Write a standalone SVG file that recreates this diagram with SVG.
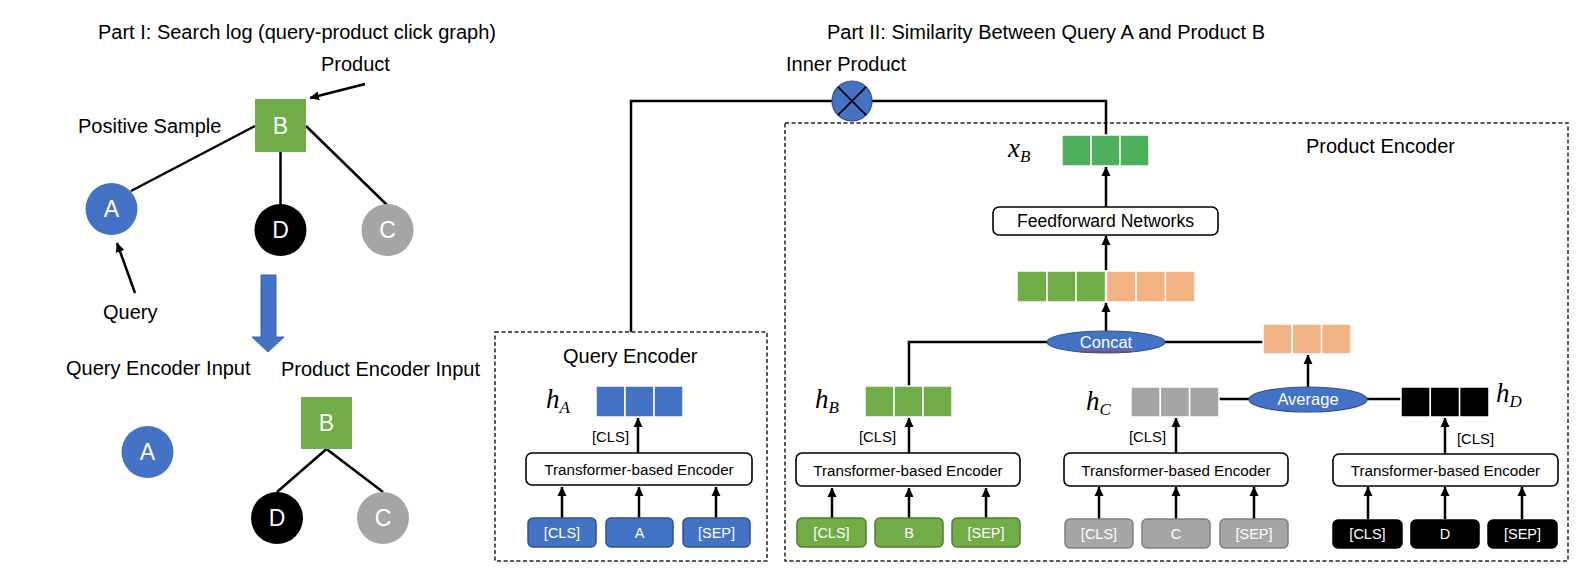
<svg xmlns="http://www.w3.org/2000/svg" width="1586" height="584" viewBox="0 0 1586 584">
<defs>
<marker id="ah" markerUnits="userSpaceOnUse" markerWidth="10" markerHeight="10" refX="9" refY="5" orient="auto">
<path d="M0,0.5 L9.5,5 L0,9.5 z" fill="#000"/>
</marker>
</defs>
<style>
text{font-family:"Liberation Sans",Arial,sans-serif;fill:#000;}
.lbl{font-size:20px;}
.let{font-size:23px;fill:#fff;text-anchor:middle;}
.math{font-family:"Liberation Serif","Times New Roman",serif;font-style:italic;font-size:27px;}
.sub{font-size:17px;}
.ln{stroke:#000;stroke-width:2.5;fill:none;}
.ar{stroke:#000;stroke-width:2.5;fill:none;marker-end:url(#ah);}
.dash{fill:none;stroke:#222;stroke-width:1.5;stroke-dasharray:4 2.5;}
.tf{fill:#fff;stroke:#000;stroke-width:1.6;}
.tft{font-size:15.2px;text-anchor:middle;}
.cls{font-size:14.8px;}
.tok{font-size:14.5px;fill:#fff;text-anchor:middle;}
.cell{stroke:#fff;stroke-width:1.5;}
.blue{fill:#4472C4;}
.green{fill:#70AD47;}
.gray{fill:#A5A5A5;}
.blk{fill:#000;}
.org{fill:#F2B384;}
.xg{fill:#4CAF5C;}
.tb{fill:#4472C4;stroke:#2F528F;stroke-width:1.5;}
.tg{fill:#70AD47;stroke:#507E32;stroke-width:1.5;}
.tgr{fill:#A5A5A5;stroke:#7F7F7F;stroke-width:1.5;}
.tk{fill:#000;stroke:#000;stroke-width:1.5;}
.ell{fill:#4472C4;stroke:#2F528F;stroke-width:1.2;}
.et{font-size:16.5px;fill:#fff;text-anchor:middle;}
</style>

<!-- Part I -->
<g id="part1-title"><text class="lbl" x="98" y="39">Part I: Search log (query-product click graph)</text></g>
<g id="label-product"><text class="lbl" x="321" y="71">Product</text></g>
<g id="label-positive"><text class="lbl" x="78" y="133">Positive Sample</text></g>
<g id="label-query"><text class="lbl" x="103" y="319">Query</text></g>
<g id="label-qei"><text class="lbl" x="66" y="375">Query Encoder Input</text></g>
<g id="label-pei"><text class="lbl" x="281" y="376">Product Encoder Input</text></g>

<g id="p1-connectors">
<line class="ln" x1="255" y1="126" x2="131" y2="191"/>
<line class="ln" x1="280.5" y1="152" x2="280.5" y2="205"/>
<line class="ln" x1="306" y1="126" x2="387" y2="205"/>
<line class="ar" x1="365" y1="84" x2="310" y2="98"/>
<line class="ar" x1="135" y1="293" x2="117" y2="243"/>
<line class="ln" x1="326.5" y1="449" x2="277" y2="492"/>
<line class="ln" x1="326.5" y1="449" x2="383" y2="492"/>
</g>

<g id="p1-B"><rect x="255" y="99" width="51" height="53" class="green"/><text class="let" x="280.5" y="134">B</text></g>
<g id="p1-A"><circle cx="111.5" cy="209" r="26" class="blue"/><text class="let" x="111.5" y="217">A</text></g>
<g id="p1-D"><circle cx="280.5" cy="230" r="26" class="blk"/><text class="let" x="280.5" y="238">D</text></g>
<g id="p1-C"><circle cx="387.5" cy="230" r="26" class="gray"/><text class="let" x="387.5" y="238">C</text></g>
<g id="p1-downarrow"><polygon points="261,275 276,275 276,337 284,337 268,352 252,337 261,337" fill="#4472C4" stroke="#3A62AA" stroke-width="1"/></g>
<g id="p1-A2"><circle cx="147.5" cy="452" r="26" class="blue"/><text class="let" x="147.5" y="460">A</text></g>
<g id="p1-B2"><rect x="301" y="397" width="51" height="52" class="green"/><text class="let" x="326.5" y="431">B</text></g>
<g id="p1-D2"><circle cx="277" cy="518" r="26" class="blk"/><text class="let" x="277" y="526">D</text></g>
<g id="p1-C2"><circle cx="383" cy="518" r="26" class="gray"/><text class="let" x="383" y="526">C</text></g>

<!-- Part II -->
<g id="part2-title"><text class="lbl" x="827" y="39">Part II: Similarity Between Query A and Product B</text></g>
<g id="label-inner"><text class="lbl" x="786" y="71">Inner Product</text></g>

<g id="query-encoder"><rect class="dash" x="495" y="332" width="272" height="229"/><text class="lbl" x="563" y="363">Query Encoder</text></g>
<g id="product-encoder"><rect class="dash" x="785" y="123" width="783" height="438"/><text class="lbl" x="1306" y="153">Product Encoder</text></g>

<g id="connectors">
<path class="ln" d="M631,332 V101 H832"/>
<path class="ln" d="M872,101 H1106 V135"/>
<line class="ar" x1="1106" y1="207" x2="1106" y2="167"/>
<line class="ar" x1="1106" y1="270" x2="1106" y2="236"/>
<line class="ar" x1="1106" y1="331" x2="1106" y2="303"/>
<path class="ln" d="M909,386 V342 H1047"/>
<line class="ln" x1="1165" y1="342" x2="1263" y2="342"/>
<line class="ar" x1="1308" y1="387" x2="1308" y2="355"/>
<line class="ln" x1="1219" y1="399" x2="1249" y2="399"/>
<line class="ln" x1="1367" y1="399" x2="1401" y2="399"/>
<line class="ar" x1="638" y1="453" x2="638" y2="418"/>
<line class="ar" x1="909" y1="453" x2="909" y2="418"/>
<line class="ar" x1="1176" y1="453" x2="1176" y2="418"/>
<line class="ar" x1="1445" y1="454" x2="1445" y2="418"/>
<line class="ar" x1="562" y1="518" x2="562" y2="487"/>
<line class="ar" x1="639" y1="518" x2="639" y2="487"/>
<line class="ar" x1="716" y1="518" x2="716" y2="487"/>
<line class="ar" x1="832" y1="518" x2="832" y2="488"/>
<line class="ar" x1="909" y1="518" x2="909" y2="488"/>
<line class="ar" x1="986" y1="518" x2="986" y2="488"/>
<line class="ar" x1="1099" y1="519" x2="1099" y2="487"/>
<line class="ar" x1="1176" y1="519" x2="1176" y2="487"/>
<line class="ar" x1="1254" y1="519" x2="1254" y2="487"/>
<line class="ar" x1="1368" y1="519" x2="1368" y2="487"/>
<line class="ar" x1="1445" y1="519" x2="1445" y2="487"/>
<line class="ar" x1="1522" y1="519" x2="1522" y2="487"/>
</g>

<g id="inner-product"><circle cx="852" cy="101" r="20" fill="#4472C4" stroke="#2F528F" stroke-width="1.2"/><path d="M837.9,86.9 L866.1,115.1 M866.1,86.9 L837.9,115.1" stroke="#000" stroke-width="1.6"/></g>

<g id="xB"><text class="math" x="1008" y="157">x<tspan class="sub" dy="5">B</tspan></text>
<rect class="cell xg" x="1062" y="135" width="29" height="31"/><rect class="cell xg" x="1091" y="135" width="29" height="31"/><rect class="cell xg" x="1120" y="135" width="29" height="31"/></g>

<g id="ffn"><rect class="tf" x="993" y="207" width="225" height="28" rx="6"/><text x="1105.5" y="227" font-size="17.6px" text-anchor="middle">Feedforward Networks</text></g>

<g id="concat-vector">
<rect class="cell green" x="1017" y="271" width="30" height="31"/><rect class="cell green" x="1047" y="271" width="29" height="31"/><rect class="cell green" x="1076" y="271" width="29.5" height="31"/>
<rect class="cell org" x="1106.5" y="271" width="29.5" height="31"/><rect class="cell org" x="1136" y="271" width="29.5" height="31"/><rect class="cell org" x="1165.5" y="271" width="29.5" height="31"/></g>

<g id="concat"><ellipse class="ell" cx="1106" cy="342" rx="59" ry="11"/><text class="et" x="1106" y="348">Concat</text>
<path d="M1080,352.5 l2,-1.5 l2,1.5 l2,-1.5 l2,1.5 l2,-1.5 l2,1.5 l2,-1.5 l2,1.5 l2,-1.5 l2,1.5 l2,-1.5 l2,1.5 l2,-1.5 l2,1.5 l2,-1.5 l2,1.5 l2,-1.5 l2,1.5 l2,-1.5 l2,1.5 l2,-1.5 l2,1.5 l2,-1.5 l2,1.5 l2,-1.5 l2,1.5" fill="none" stroke="#E0201B" stroke-width="1"/></g>

<g id="avg-vector"><rect class="cell org" x="1263" y="324" width="29.3" height="30"/><rect class="cell org" x="1292.3" y="324" width="29.3" height="30"/><rect class="cell org" x="1321.6" y="324" width="29.4" height="30"/></g>

<g id="average"><ellipse class="ell" cx="1308" cy="399.5" rx="59" ry="12.5"/><text class="et" x="1308" y="405" font-size="15.6px">Average</text></g>

<!-- Query encoder internals -->
<g id="hA"><text class="math" x="546" y="408">h<tspan class="sub" dy="5">A</tspan></text>
<rect class="cell blue" x="596" y="386" width="29" height="31"/><rect class="cell blue" x="625" y="386" width="29" height="31"/><rect class="cell blue" x="654" y="386" width="29" height="31"/>
<text class="cls" x="592" y="442">[CLS]</text></g>
<g id="tfA"><rect class="tf" x="526" y="453" width="226" height="32" rx="6"/><text class="tft" x="639" y="475">Transformer-based Encoder</text></g>
<g id="tokA-cls"><rect class="tb" x="528" y="518" width="68" height="29" rx="5"/><text class="tok" x="562" y="538">[CLS]</text></g>
<g id="tokA-A"><rect class="tb" x="606" y="518" width="67" height="29" rx="5"/><text class="tok" x="639.5" y="538">A</text></g>
<g id="tokA-sep"><rect class="tb" x="683" y="518" width="67" height="29" rx="5"/><text class="tok" x="716.5" y="538">[SEP]</text></g>

<!-- B branch -->
<g id="hB"><text class="math" x="815" y="408">h<tspan class="sub" dy="5">B</tspan></text>
<rect class="cell green" x="865" y="386" width="29" height="31"/><rect class="cell green" x="894" y="386" width="29" height="31"/><rect class="cell green" x="923" y="386" width="29" height="31"/>
<text class="cls" x="859" y="442">[CLS]</text></g>
<g id="tfB"><rect class="tf" x="796" y="453" width="224" height="33" rx="6"/><text class="tft" x="908" y="476">Transformer-based Encoder</text></g>
<g id="tokB-cls"><rect class="tg" x="797" y="518" width="69" height="29" rx="5"/><text class="tok" x="831.5" y="538">[CLS]</text></g>
<g id="tokB-B"><rect class="tg" x="875" y="518" width="68" height="29" rx="5"/><text class="tok" x="909" y="538">B</text></g>
<g id="tokB-sep"><rect class="tg" x="952" y="518" width="68" height="29" rx="5"/><text class="tok" x="986" y="538">[SEP]</text></g>

<!-- C branch -->
<g id="hC"><text class="math" x="1086" y="410">h<tspan class="sub" dy="5">C</tspan></text>
<rect class="cell gray" x="1131" y="387" width="29.3" height="30"/><rect class="cell gray" x="1160.3" y="387" width="29.3" height="30"/><rect class="cell gray" x="1189.6" y="387" width="29.4" height="30"/>
<text class="cls" x="1129" y="442">[CLS]</text></g>
<g id="tfC"><rect class="tf" x="1064" y="453" width="224" height="33" rx="6"/><text class="tft" x="1176" y="476">Transformer-based Encoder</text></g>
<g id="tokC-cls"><rect class="tgr" x="1065" y="519" width="68" height="29" rx="5"/><text class="tok" x="1099" y="539">[CLS]</text></g>
<g id="tokC-C"><rect class="tgr" x="1142" y="519" width="68" height="29" rx="5"/><text class="tok" x="1176" y="539">C</text></g>
<g id="tokC-sep"><rect class="tgr" x="1220" y="519" width="68" height="29" rx="5"/><text class="tok" x="1254" y="539">[SEP]</text></g>

<!-- D branch -->
<g id="hD"><text class="math" x="1496" y="402">h<tspan class="sub" dy="5">D</tspan></text>
<rect class="cell blk" x="1401" y="387" width="29.3" height="30"/><rect class="cell blk" x="1430.3" y="387" width="29.3" height="30"/><rect class="cell blk" x="1459.6" y="387" width="29.4" height="30"/>
<text class="cls" x="1457" y="444">[CLS]</text></g>
<g id="tfD"><rect class="tf" x="1333" y="454" width="225" height="32" rx="6"/><text class="tft" x="1445.5" y="476">Transformer-based Encoder</text></g>
<g id="tokD-cls"><rect class="tk" x="1333" y="520" width="69" height="28" rx="5"/><text class="tok" x="1367.5" y="539">[CLS]</text></g>
<g id="tokD-D"><rect class="tk" x="1411" y="520" width="68" height="28" rx="5"/><text class="tok" x="1445" y="539">D</text></g>
<g id="tokD-sep"><rect class="tk" x="1488" y="520" width="69" height="28" rx="5"/><text class="tok" x="1522.5" y="539">[SEP]</text></g>
</svg>
